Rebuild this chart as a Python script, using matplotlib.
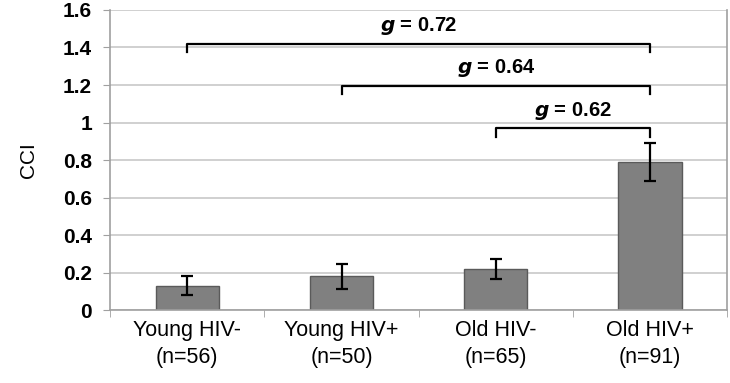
import numpy as np
import matplotlib.pyplot as plt

plt.rcParams['font.family'] = ['Liberation Sans', 'DejaVu Sans']

groups = ['Young HIV-\n(n=56)', 'Young HIV+\n(n=50)', 'Old HIV-\n(n=65)', 'Old HIV+\n(n=91)']
cci = [0.13, 0.18, 0.22, 0.79]
err = [0.05, 0.065, 0.053, 0.10]
yticks = [0, 0.2, 0.4, 0.6, 0.8, 1, 1.2, 1.4, 1.6]
ytick_labels = ['0', '0.2', '0.4', '0.6', '0.8', '1', '1.2', '1.4', '1.6']

# brackets: (from group, to group, height, label)
brackets = [(0, 3, 1.42, '0.72'), (1, 3, 1.195, '0.64'), (2, 3, 0.97, '0.62')]

fig = plt.figure(figsize=(7.3, 3.83), dpi=100)
ax = fig.add_axes([0.151, 0.19, 0.845, 0.784])

x = np.arange(len(groups))
ax.set_axisbelow(True)
ax.yaxis.grid(True, color='#c8c8c8', linewidth=1.2)
ax.bar(x, cci, width=0.41, color='#808080', edgecolor='#5a5a5a', linewidth=1, zorder=2)
ax.errorbar(x, cci, yerr=err, fmt='none', ecolor='black', elinewidth=1.6, capsize=4, capthick=1.6, zorder=3)

for a, b, h, lab in brackets:
    ax.plot([a, a, b, b], [h - 0.045, h, h, h - 0.045], color='black', lw=1.6, zorder=4)
    ax.text((a + b) / 2, h + 0.035, r'$\mathbfit{g}$' + ' = ' + lab, ha='center', va='bottom',
            fontsize=14.5, fontweight='bold')

ax.set_xlim(-0.5, 3.5)
ax.set_ylim(0, 1.6)
ax.set_yticks(yticks)
ax.set_yticklabels(ytick_labels, fontsize=15, fontweight='bold')
ax.set_xticks(x)
ax.set_xticklabels(groups, fontsize=15.5, linespacing=1.35)
ax.set_xticks(np.arange(-0.5, 4, 1), minor=True)
ax.tick_params(axis='x', which='major', length=0, pad=7)
ax.tick_params(axis='x', which='minor', length=5, color='#a0a0a0')
ax.tick_params(axis='y', length=5, color='#a0a0a0', pad=8)
ax.set_ylabel('CCI', fontsize=15, labelpad=18)

for s in ['left', 'right', 'bottom']:
    ax.spines[s].set_color('#a0a0a0')
    ax.spines[s].set_linewidth(1.2)
ax.spines['top'].set_visible(False)

fig.savefig('out.png', dpi=100)
